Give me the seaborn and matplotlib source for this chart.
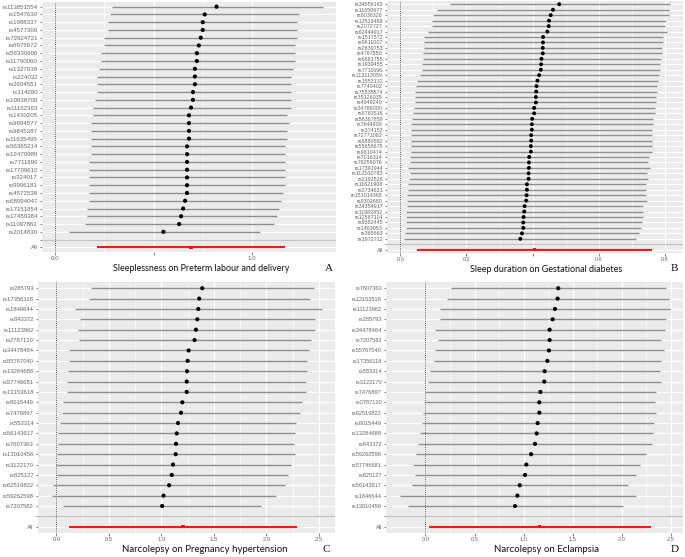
import numpy as np
import pandas as pd
import matplotlib
matplotlib.use('Agg')
import matplotlib.pyplot as plt
import seaborn as sns

# Panel A: Sleeplessness -> Preterm labour and delivery
snps_a = ['rs113851554', 'rs1547630', 'rs1988337', 'rs4577309', 'rs72924721', 'rs6975972',
          'rs56330606', 'rs11790060', 'rs1327938', 'rs224032', 'rs2604551', 'rs314280',
          'rs10838708', 'rs11152363', 'rs1430205', 'rs9894577', 'rs9845387', 'rs11635495',
          'rs56365214', 'rs12470989', 'rs7711696', 'rs17709610', 'rs324017', 'rs9906181',
          'rs4572538', 'rs68094047', 'rs17151854', 'rs17459384', 'rs11097861', 'rs2014830']
beta_a = [0.82, 0.76, 0.75, 0.75, 0.74, 0.73, 0.72, 0.72, 0.71, 0.71, 0.71, 0.70, 0.70, 0.69, 0.68,
          0.68, 0.68, 0.68, 0.67, 0.67, 0.67, 0.67, 0.67, 0.67, 0.67, 0.66, 0.65, 0.64, 0.63, 0.55]
lo_a = [0.29, 0.28, 0.27, 0.27, 0.25, 0.25, 0.23, 0.23, 0.22, 0.21, 0.21, 0.21, 0.20, 0.19, 0.19,
        0.18, 0.18, 0.18, 0.18, 0.18, 0.17, 0.17, 0.17, 0.17, 0.17, 0.17, 0.16, 0.16, 0.15, 0.07]
hi_a = [1.36, 1.24, 1.23, 1.23, 1.23, 1.22, 1.22, 1.22, 1.21, 1.20, 1.20, 1.20, 1.20, 1.20, 1.18,
        1.19, 1.18, 1.18, 1.17, 1.17, 1.17, 1.17, 1.17, 1.17, 1.16, 1.15, 1.14, 1.13, 1.11, 1.04]
all_a = (0.69, 0.21, 1.17)

# Panel B: Sleep duration -> Gestational diabetes
snps_b = ['rs34556183', 'rs11650677', 'rs8038326', 'rs12518468', 'rs2072727', 'rs62444917',
          'rs1517572', 'rs9611007', 'rs2839753', 'rs4767550', 'rs6681755', 'rs1939455',
          'rs7711696', 'rs113113059', 'rs1553132', 'rs7740402', 'rs75535574', 'rs35126035',
          'rs4949240', 'rs34786000', 'rs6783518', 'rs56367859', 'rs7644809', 'rs374153',
          'rs72771082', 'rs6889592', 'rs55658675', 'rs9810474', 'rs7016314', 'rs76258076',
          'rs17391944', 'rs112100783', 'rs2192528', 'rs11621908', 'rs2734631', 'rs151014368',
          'rs9302680', 'rs34354917', 'rs11982852', 'rs12587114', 'rs9382445', 'rs1463053',
          'rs365663', 'rs1972712']
beta_b = [0.481, 0.462, 0.455, 0.450, 0.449, 0.445, 0.432, 0.432, 0.431, 0.431, 0.427, 0.426,
          0.425, 0.420, 0.415, 0.412, 0.411, 0.410, 0.410, 0.405, 0.405, 0.399, 0.398, 0.398,
          0.396, 0.396, 0.395, 0.395, 0.390, 0.389, 0.389, 0.388, 0.388, 0.383, 0.383, 0.382,
          0.381, 0.376, 0.375, 0.373, 0.372, 0.372, 0.368, 0.363]
lo_b = [0.150, 0.111, 0.098, 0.097, 0.096, 0.083, 0.070, 0.070, 0.071, 0.068, 0.067, 0.065,
        0.064, 0.059, 0.051, 0.048, 0.044, 0.044, 0.043, 0.040, 0.038, 0.034, 0.033, 0.033,
        0.031, 0.031, 0.031, 0.031, 0.028, 0.030, 0.023, 0.030, 0.025, 0.024, 0.024, 0.021,
        0.020, 0.019, 0.017, 0.018, 0.018, 0.017, 0.015, 0.012]
hi_b = [0.815, 0.814, 0.814, 0.805, 0.802, 0.806, 0.795, 0.795, 0.792, 0.791, 0.789, 0.787,
        0.787, 0.782, 0.779, 0.777, 0.777, 0.774, 0.775, 0.772, 0.772, 0.766, 0.764, 0.763,
        0.762, 0.763, 0.761, 0.761, 0.753, 0.751, 0.756, 0.748, 0.750, 0.744, 0.744, 0.744,
        0.746, 0.736, 0.736, 0.734, 0.731, 0.729, 0.724, 0.714]
all_b = (0.406, 0.051, 0.763)

# Panel C: Narcolepsy -> Pregnancy hypertension
snps_c = ['rs285793', 'rs17356118', 'rs1846644', 'rs843372', 'rs11123962', 'rs2787120',
          'rs34478464', 'rs55767040', 'rs13284688', 'rs57746681', 'rs12153618', 'rs8015449',
          'rs7476897', 'rs553314', 'rs56143617', 'rs7607363', 'rs13010456', 'rs3122170',
          'rs825127', 'rs62519822', 'rs59262598', 'rs7207582']
beta_c = [1.389, 1.360, 1.351, 1.342, 1.329, 1.316, 1.259, 1.250, 1.244, 1.241, 1.241, 1.199,
          1.187, 1.158, 1.146, 1.139, 1.136, 1.111, 1.098, 1.073, 1.020, 1.007]
lo_c = [0.325, 0.306, 0.177, 0.224, 0.202, 0.211, 0.123, 0.120, 0.107, 0.104, 0.101, 0.066,
        0.057, 0.035, 0.016, 0.019, 0.003, -0.006, 0.003, -0.032, -0.047, 0.066]
hi_c = [2.453, 2.415, 2.525, 2.459, 2.459, 2.424, 2.402, 2.383, 2.383, 2.380, 2.380, 2.336,
        2.320, 2.285, 2.273, 2.263, 2.273, 2.235, 2.203, 2.175, 2.093, 1.951]
all_c = (1.206, 0.123, 2.295)

# Panel D: Narcolepsy -> Eclampsia
snps_d = ['rs7607363', 'rs12153518', 'rs11123962', 'rs285793', 'rs34478464', 'rs7207582',
          'rs55767040', 'rs17356118', 'rs553314', 'rs3122170', 'rs7476897', 'rs2787120',
          'rs62519822', 'rs8015449', 'rs13284688', 'rs843372', 'rs59262598', 'rs57746681',
          'rs825127', 'rs56143617', 'rs1846644', 'rs13010456']
beta_d = [1.353, 1.346, 1.319, 1.296, 1.265, 1.265, 1.258, 1.242, 1.214, 1.211, 1.171, 1.160,
          1.160, 1.143, 1.133, 1.116, 1.076, 1.028, 1.015, 0.961, 0.937, 0.913]
lo_d = [0.257, 0.220, 0.152, 0.149, 0.095, 0.132, 0.095, 0.085, 0.044, 0.030, -0.003, -0.017,
        -0.027, -0.034, -0.051, -0.071, -0.091, -0.122, -0.108, -0.135, -0.264, -0.173]
hi_d = [2.453, 2.476, 2.486, 2.449, 2.443, 2.399, 2.426, 2.399, 2.392, 2.399, 2.351, 2.338,
        2.344, 2.324, 2.317, 2.304, 2.246, 2.189, 2.141, 2.060, 2.145, 2.009]
all_d = (1.164, 0.034, 2.297)

titles = ['Sleeplessness on Preterm labour and delivery', 'Sleep duration on Gestational diabetes',
          'Narcolepsy on Pregnancy hypertension', 'Narcolepsy on Eclampsia']
letters = ['A', 'B', 'C', 'D']
xticks_a = [0.0, 0.5, 1.0]
xlabels_a = ['0.0', '', '1.0']
xticks_b = [0.0, 0.2, 0.4, 0.6, 0.8]
xlabels_b = ['0.0', '0.2', '', '0.6', '0.8']
xticks_cd = [0.0, 0.5, 1.0, 1.5, 2.0, 2.5]
xlabels_cd = ['0.0', '0.5', '1.0', '1.5', '2.0', '2.5']

sns.set_theme(style='darkgrid')
plt.rcParams['font.family'] = ['Liberation Sans', 'DejaVu Sans']


def forest(ax, snps, beta, lo, hi, overall, xticks, xlabels, fs, ms):
    n = len(snps)
    df = pd.DataFrame({'snp': snps, 'b': beta, 'lo': lo, 'hi': hi, 'pos': np.arange(1, n + 1)})
    sep = n + 1
    allpos = n + 2
    ax.set_facecolor('#EBEBEB')
    ax.axhline(sep, color='#C4C4C4', lw=0.9, zorder=1)
    ax.axvline(0, color='#555555', ls=(0, (1, 1.2)), lw=0.7, zorder=1)
    ax.hlines(df['pos'], df['lo'], df['hi'], color='#909090', lw=1.0, zorder=2)
    sns.scatterplot(data=df, x='b', y='pos', color='black', s=ms, edgecolor='none',
                    ax=ax, zorder=3, legend=False)
    ax.hlines(allpos, overall[1], overall[2], color='#F21B1B', lw=1.5, zorder=2)
    sns.scatterplot(x=[overall[0]], y=[allpos], color='#E81010', s=5, marker='s',
                    edgecolor='none', ax=ax, zorder=3, legend=False)
    xmin = min(0, min(lo), overall[1])
    xmax = max(max(hi), overall[2])
    pad = 0.05 * (xmax - xmin)
    ax.set_xlim(xmin - pad, xmax + pad)
    ax.set_ylim(allpos + 0.6, 0.4)
    ax.set_yticks(list(df['pos']) + [sep, allpos])
    ax.set_yticklabels(snps + ['', 'All'])
    ax.set_xticks(xticks)
    ax.set_xticklabels(xlabels)
    ax.set_xticks([(a + b) / 2 for a, b in zip(xticks[:-1], xticks[1:])], minor=True)
    ax.grid(which='major', color='white', lw=0.9)
    ax.grid(which='minor', axis='x', color='white', lw=0.45)
    ax.tick_params(which='major', length=1.8, width=0.5, color='#555555', labelsize=fs,
                   labelcolor='#666666', pad=1.2, left=True, bottom=True)
    ax.tick_params(which='minor', length=0)
    ax.set_xlabel('')
    ax.set_ylabel('')
    for s in ax.spines.values():
        s.set_visible(False)


fig = plt.figure(figsize=(6.85, 5.57), dpi=100)
W, H = 685, 557
boxes = [(42, 2, 336, 252), (387, 1, 683, 253), (38, 282, 335, 533), (386, 282, 683, 533)]
axes = [fig.add_axes([x0 / W, 1 - y1 / H, (x1 - x0) / W, (y1 - y0) / H]) for x0, y0, x1, y1 in boxes]

forest(axes[0], snps_a, beta_a, lo_a, hi_a, all_a, xticks_a, xlabels_a, 4.4, 9)
forest(axes[1], snps_b, beta_b, lo_b, hi_b, all_b, xticks_b, xlabels_b, 3.9, 8)
forest(axes[2], snps_c, beta_c, lo_c, hi_c, all_c, xticks_cd, xlabels_cd, 4.2, 9)
forest(axes[3], snps_d, beta_d, lo_d, hi_d, all_d, xticks_cd, xlabels_cd, 4.1, 9)

title_pos = [(201, 268), (546, 270), (205, 550), (546, 550)]
title_fs = [6.4, 6.5, 6.9, 6.9]
letter_pos = [(329, 268), (674, 268), (326, 550), (675, 550)]
for t, (tx, ty), f, l, (lx, ly) in zip(titles, title_pos, title_fs, letters, letter_pos):
    fig.text(tx / W, 1 - ty / H, t, ha='center', va='center', fontsize=f,
             family=['Lato', 'DejaVu Sans'], color='#111111')
    fig.text(lx / W, 1 - ly / H, l, ha='center', va='center', fontsize=8,
             family=['Liberation Serif', 'DejaVu Serif'], color='#111111')

plt.savefig('out.png', dpi=100)
plt.close()
